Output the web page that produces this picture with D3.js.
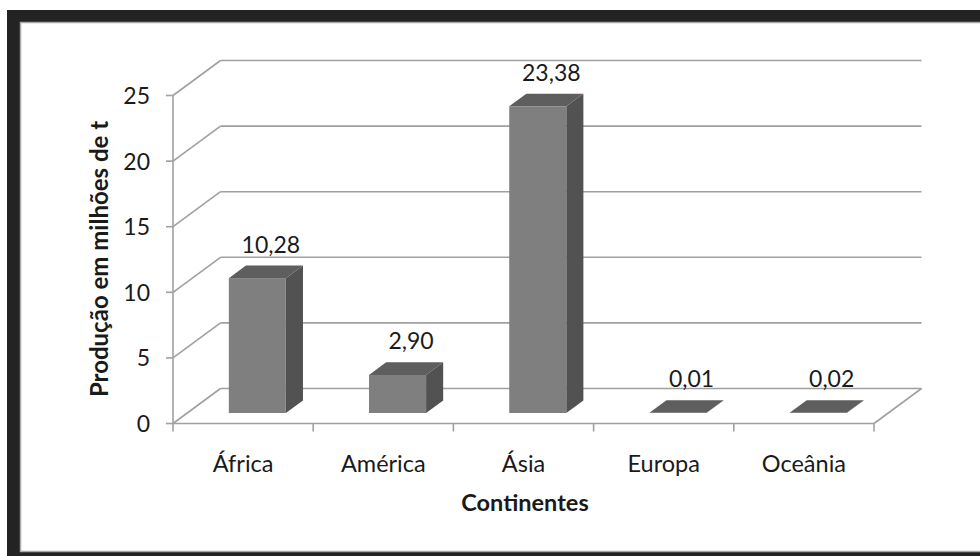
<!DOCTYPE html>
<html>
<head>
<meta charset="utf-8">
<script src="https://cdn.jsdelivr.net/npm/d3@7"></script>
<style>
  body { margin: 0; background: #fff; }
  text { font-family: Lato, "Open Sans", sans-serif; fill: #1a1a1a; }
</style>
</head>
<body>
<div id="viz"></div>
<script>
// data
const continents = ["África", "América", "Ásia", "Europa", "Oceânia"];
const production = [10.28, 2.90, 23.38, 0.01, 0.02];
const valueLabels = ["10,28", "2,90", "23,38", "0,01", "0,02"];
const yTicks = [0, 5, 10, 15, 20, 25];

const w = 980, h = 556;

const svg = d3.select("#viz").append("svg")
  .attr("width", w)
  .attr("height", h);

// dark frame round the chart area
svg.append("rect").attr("x", 7).attr("y", 10).attr("width", w).attr("height", h).attr("fill", "#232323");
svg.append("rect").attr("x", 20.5).attr("y", 22.5).attr("width", w).attr("height", 529)
  .attr("fill", "#fff").attr("stroke", "#a8a8a8").attr("stroke-width", 1.5);

// front plane + depth offset of the 3d box
const left = 173, right = 874;
const dx = 47.5, dy = -35;

const x = d3.scaleBand().domain(continents).range([left, right]);
const y = d3.scaleLinear().domain([0, 25]).range([423.5, 95.5]);
const y0 = y(0);

const grid = svg.append("g").attr("stroke", "#a0a0a0").attr("stroke-width", 1.6).attr("fill", "none");

// back wall gridlines
grid.selectAll(".back").data(yTicks).enter().append("line")
  .attr("x1", left + dx).attr("x2", right + dx)
  .attr("y1", d => y(d) + dy).attr("y2", d => y(d) + dy);

// side wall diagonals
grid.selectAll(".diag").data(yTicks).enter().append("line")
  .attr("x1", left).attr("x2", left + dx)
  .attr("y1", d => y(d)).attr("y2", d => y(d) + dy);

// floor front edge and right edge
grid.append("line").attr("x1", left).attr("x2", right).attr("y1", y0).attr("y2", y0);
grid.append("line").attr("x1", right).attr("x2", right + dx).attr("y1", y0).attr("y2", y0 + dy);

// y axis + ticks
grid.append("line").attr("x1", left).attr("x2", left).attr("y1", y(0)).attr("y2", y(25));
grid.selectAll(".yt").data(yTicks).enter().append("line")
  .attr("x1", left - 7).attr("x2", left)
  .attr("y1", d => y(d)).attr("y2", d => y(d));

// category ticks at band edges
const edges = continents.map(c => x(c)).concat([right]);
grid.selectAll(".xt").data(edges).enter().append("line")
  .attr("x1", d => d).attr("x2", d => d)
  .attr("y1", y0).attr("y2", y0 + 8);

svg.selectAll(".ylab").data(yTicks).enter().append("text")
  .attr("x", 150).attr("y", d => y(d) + 8.5)
  .attr("text-anchor", "end")
  .style("font-size", "23px")
  .text(d => d);

// bars
const f1 = 0.3, f2 = 0.66;
const barW = x.bandwidth() * 0.407;
const ddx = (f2 - f1) * dx, ddy = (f2 - f1) * dy;

const bars = svg.append("g").selectAll("g").data(continents).enter().append("g");

function geom(c, i) {
  const fx = x(c) + (x.bandwidth() - barW) / 2 + f1 * dx;
  const fb = y0 + f1 * dy;
  const ft = y(production[i]) + f1 * dy;
  return { fx, fb, ft };
}

bars.append("polygon")
  .attr("fill", "#525252")
  .attr("points", (c, i) => {
    const g = geom(c, i);
    const xr = g.fx + barW;
    return [[xr, g.fb], [xr, g.ft], [xr + ddx, g.ft + ddy], [xr + ddx, g.fb + ddy]].join(" ");
  });

bars.append("polygon")
  .attr("fill", "#5e5e5e")
  .attr("points", (c, i) => {
    const g = geom(c, i);
    return [[g.fx, g.ft], [g.fx + barW, g.ft], [g.fx + barW + ddx, g.ft + ddy], [g.fx + ddx, g.ft + ddy]].join(" ");
  });

bars.append("rect")
  .attr("fill", "#7f7f7f")
  .attr("x", (c, i) => geom(c, i).fx)
  .attr("y", (c, i) => geom(c, i).ft)
  .attr("width", barW)
  .attr("height", (c, i) => geom(c, i).fb - geom(c, i).ft);

bars.append("text")
  .attr("x", (c, i) => geom(c, i).fx + barW / 2 + ddx / 2 + 5)
  .attr("y", (c, i) => geom(c, i).ft + ddy - 13)
  .attr("text-anchor", "middle")
  .style("font-size", "23px")
  .text((c, i) => valueLabels[i]);

// category labels
svg.selectAll(".xlab").data(continents).enter().append("text")
  .attr("x", d => x(d) + x.bandwidth() / 2)
  .attr("y", 472)
  .attr("text-anchor", "middle")
  .style("font-size", "23.5px")
  .text(d => d);

// axis titles
svg.append("text")
  .attr("x", 525).attr("y", 511)
  .attr("text-anchor", "middle")
  .style("font-size", "23.5px").style("font-weight", "bold")
  .text("Continentes");

svg.append("text")
  .attr("transform", "translate(108,259) rotate(-90)")
  .attr("text-anchor", "middle")
  .style("font-size", "24px").style("font-weight", "bold")
  .text("Produção em milhões de t");
</script>
</body>
</html>
